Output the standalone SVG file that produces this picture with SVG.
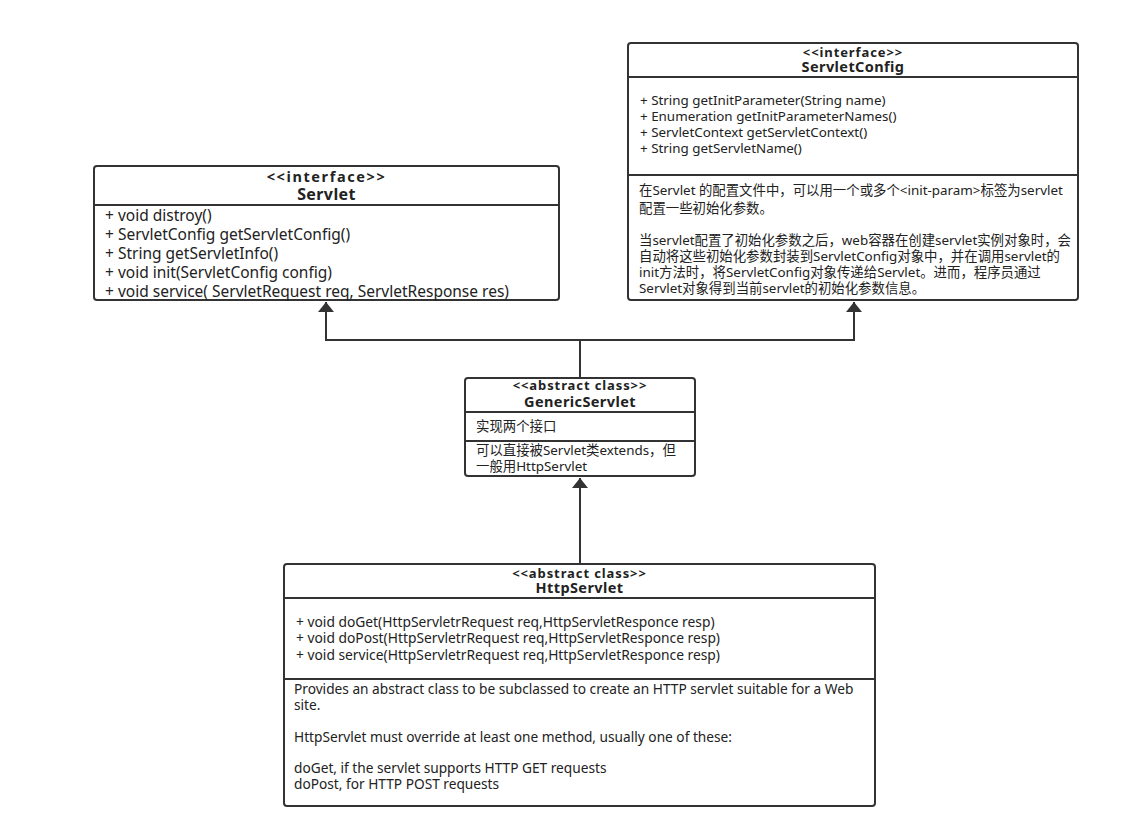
<svg xmlns="http://www.w3.org/2000/svg" width="1141" height="815" viewBox="0 0 1141 815">
<style>
.box{fill:#fff;stroke:#333;stroke-width:2}
.div{stroke:#333;stroke-width:2}
text{font-family:"Noto Sans","Noto Sans CJK SC",sans-serif;fill:#222}
.t{font-weight:bold;text-anchor:middle}
.st{font-size:13px;letter-spacing:0.9px}
.nm{font-size:14.5px;letter-spacing:0.4px}
.m15{font-size:15.5px}
.m12{font-size:13.4px}
.m13{font-size:13.8px}
.n13{font-size:13.7px}
.conn{fill:none;stroke:#333;stroke-width:2}
</style>
<defs>
<marker id="arr" viewBox="0 0 10 16" refX="10" refY="8" markerWidth="10" markerHeight="16" markerUnits="userSpaceOnUse" orient="auto">
<path d="M0,0 L10,8 L0,16 Z" fill="#333"/>
</marker>
</defs>
<rect width="1141" height="815" fill="#fff"/>
<g id="connectors">
<path class="conn" d="M580,378 V340 H326 V302" marker-end="url(#arr)"/>
<path class="conn" d="M580,340 H854 V302" marker-end="url(#arr)"/>
<path class="conn" d="M580,564 V478" marker-end="url(#arr)"/>
</g>
<g id="servlet">
<rect class="box" x="94" y="166" width="465" height="134" rx="3"/>
<line class="div" x1="94" y1="205" x2="559" y2="205"/>
<text class="t" x="326.5" y="182" font-size="14.5" letter-spacing="1.6">&lt;&lt;interface&gt;&gt;</text>
<text class="t" x="326.5" y="200" font-size="16" letter-spacing="0.4">Servlet</text>
<text class="m15" x="105" y="221">+ void distroy()</text>
<text class="m15" x="105" y="240">+ ServletConfig getServletConfig()</text>
<text class="m15" x="105" y="259">+ String getServletInfo()</text>
<text class="m15" x="105" y="278">+ void init(ServletConfig config)</text>
<text class="m15" x="105" y="297">+ void service( ServletRequest req, ServletResponse res)</text>
</g>
<g id="servletconfig">
<rect class="box" x="628" y="43" width="450" height="257" rx="3"/>
<line class="div" x1="628" y1="77" x2="1078" y2="77"/>
<line class="div" x1="628" y1="175" x2="1078" y2="175"/>
<text class="t st" x="853" y="57">&lt;&lt;interface&gt;&gt;</text>
<text class="t nm" x="853" y="72">ServletConfig</text>
<text class="m12" x="640" y="105">+ String getInitParameter(String name)</text>
<text class="m12" x="640" y="121">+ Enumeration getInitParameterNames()</text>
<text class="m12" x="640" y="137">+ ServletContext getServletContext()</text>
<text class="m12" x="640" y="153">+ String getServletName()</text>
<text class="m12" x="639" y="195">在Servlet 的配置文件中，可以用一个或多个&lt;init-param&gt;标签为servlet</text>
<text class="m12" x="639" y="213">配置一些初始化参数。</text>
<text class="m12" x="639" y="245">当servlet配置了初始化参数之后，web容器在创建servlet实例对象时，会</text>
<text class="m12" x="639" y="261">自动将这些初始化参数封装到ServletConfig对象中，并在调用servlet的</text>
<text class="m12" x="639" y="277">init方法时，将ServletConfig对象传递给Servlet。进而，程序员通过</text>
<text class="m12" x="639" y="293">Servlet对象得到当前servlet的初始化参数信息。</text>
</g>
<g id="genericservlet">
<rect class="box" x="465" y="378" width="230" height="98" rx="3"/>
<line class="div" x1="465" y1="412" x2="695" y2="412"/>
<line class="div" x1="465" y1="441" x2="695" y2="441"/>
<text class="t st" x="580" y="390">&lt;&lt;abstract class&gt;&gt;</text>
<text class="t nm" x="580" y="407">GenericServlet</text>
<text class="m12" x="476" y="431">实现两个接口</text>
<text class="m12" x="476" y="455">可以直接被Servlet类extends，但</text>
<text class="m12" x="476" y="471">一般用HttpServlet</text>
</g>
<g id="httpservlet">
<rect class="box" x="284" y="564" width="591" height="242" rx="3"/>
<line class="div" x1="284" y1="598" x2="875" y2="598"/>
<line class="div" x1="284" y1="679" x2="875" y2="679"/>
<text class="t st" x="579.5" y="578">&lt;&lt;abstract class&gt;&gt;</text>
<text class="t nm" x="579.5" y="593">HttpServlet</text>
<text class="m13" x="296" y="627">+ void doGet(HttpServletrRequest req,HttpServletResponce resp)</text>
<text class="m13" x="296" y="643">+ void doPost(HttpServletrRequest req,HttpServletResponce resp)</text>
<text class="m13" x="296" y="660">+ void service(HttpServletrRequest req,HttpServletResponce resp)</text>
<text class="n13" x="294" y="694">Provides an abstract class to be subclassed to create an HTTP servlet suitable for a Web</text>
<text class="n13" x="294" y="710">site.</text>
<text class="n13" x="294" y="742">HttpServlet must override at least one method, usually one of these:</text>
<text class="n13" x="294" y="773">doGet, if the servlet supports HTTP GET requests</text>
<text class="n13" x="294" y="789">doPost, for HTTP POST requests</text>
</g>
</svg>
